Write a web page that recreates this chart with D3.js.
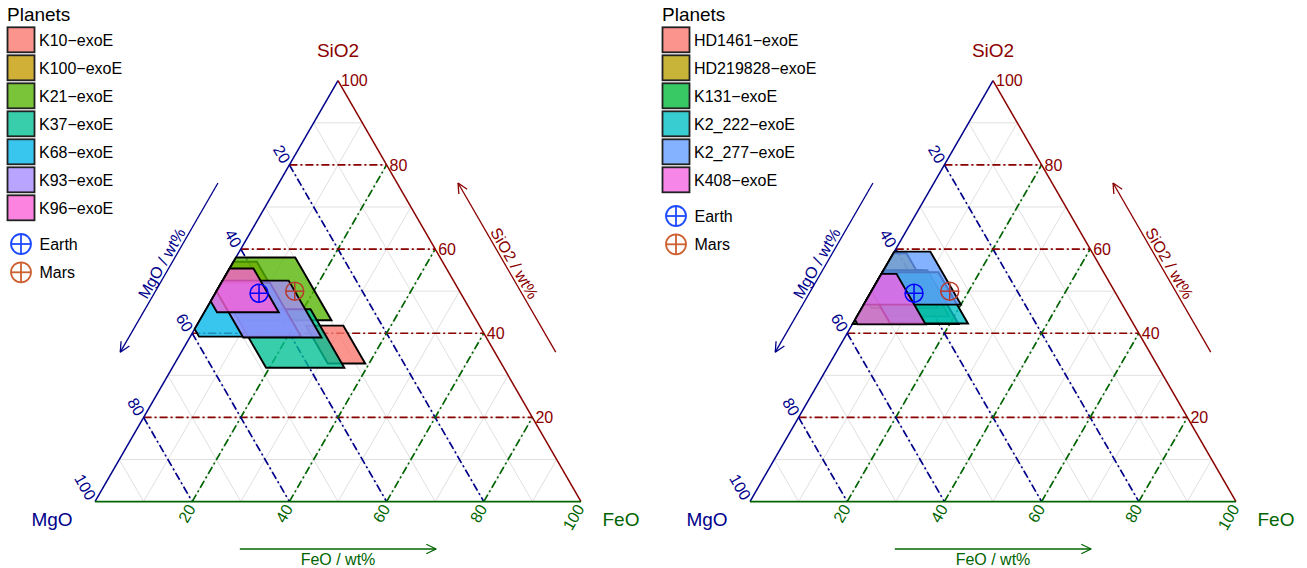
<!DOCTYPE html>
<html><head><meta charset="utf-8">
<script src="https://cdn.jsdelivr.net/npm/d3@7"></script>
<style>body{margin:0;background:#fff;} text{font-family:"Liberation Sans",Arial,Helvetica,sans-serif;}</style>
</head><body>
<svg id="c" width="1307" height="568"></svg>
<script>
// ---------------- data ----------------
const leftPlanets = ["K10−exoE","K100−exoE","K21−exoE","K37−exoE","K68−exoE","K93−exoE","K96−exoE"];
const leftSio2Min = [32.8, 45.0, 43.1, 31.8, 39.2, 39.0, 45.0];
const leftSio2Max = [41.8, 57.0, 58.0, 45.7, 52.0, 52.5, 55.4];
const leftMgoMin  = [28.0, 38.2, 29.8, 32.8, 38.0, 33.9, 39.7];
const leftMgoMax  = [35.7, 50.0, 48.0, 48.9, 59.0, 50.0, 52.4];

const rightPlanets = ["HD1461−exoE","HD219828−exoE","K131−exoE","K2_222−exoE","K2_277−exoE","K408−exoE"];
const rightSio2Min = [44.0, 46.0, 42.2, 42.3, 46.8, 42.1];
const rightSio2Max = [55.0, 59.0, 55.0, 54.5, 59.4, 54.1];
const rightMgoMin  = [37.0, 38.3, 36.0, 34.0, 33.2, 42.8];
const rightMgoMax  = [50.0, 52.0, 58.0, 50.0, 56.0, 56.8];

const earthSio2 = 49.5, earthMgo = 41.5;
const marsSio2 = 50.0, marsMgo = 33.9;

const tickValues = [20, 40, 60, 80, 100];
const majorLines = [20, 40, 60, 80];
const minorLines = [10, 20, 30, 40, 50, 60, 70, 80, 90];

// styles
const leftColors = ["#F8766D","#C49A00","#53B400","#00C094","#00B6EB","#A58AFF","#FB61D7"];
const rightColors = ["#F8766D","#B79F00","#00BA38","#00BFC4","#619CFF","#F564E3"];
const cSi = "#8B0000", cMg = "#00008B", cFe = "#006400";

const svg = d3.select("#c");
svg.append("rect").attr("width",1307).attr("height",568).attr("fill","#fff");

const W = 486, H = W*Math.sqrt(3)/2, X0 = 95, YB = 501.6;

function clipPoly(poly){
  const inside = p => p[0]+p[1] <= 100 + 1e-9;
  const inter = (a,b) => { const t = (100-a[0]-a[1])/((b[0]+b[1])-(a[0]+a[1])); return [a[0]+t*(b[0]-a[0]), a[1]+t*(b[1]-a[1])]; };
  const out = [];
  for (let i=0;i<poly.length;i++){
    const cur = poly[i], prev = poly[(i-1+poly.length)%poly.length];
    if (inside(cur)) { if (!inside(prev)) out.push(inter(prev,cur)); out.push(cur); }
    else if (inside(prev)) out.push(inter(prev,cur));
  }
  return out;
}

function arrow(g, x1, y1, x2, y2, color){
  g.append("line").attr("x1",x1).attr("y1",y1).attr("x2",x2).attr("y2",y2)
    .attr("stroke",color).attr("stroke-width",1.3);
  const a = Math.atan2(y2-y1, x2-x1), L = 11, sp = 0.45;
  [a+Math.PI-sp, a+Math.PI+sp].forEach(b=>{
    g.append("line").attr("x1",x2).attr("y1",y2).attr("x2",x2+L*Math.cos(b)).attr("y2",y2+L*Math.sin(b))
      .attr("stroke",color).attr("stroke-width",1.3);
  });
}

function crossCircle(g, x, y, r, color, sw){
  g.append("circle").attr("cx",x).attr("cy",y).attr("r",r).attr("fill","none").attr("stroke",color).attr("stroke-width",sw);
  g.append("line").attr("x1",x-r).attr("x2",x+r).attr("y1",y).attr("y2",y).attr("stroke",color).attr("stroke-width",sw);
  g.append("line").attr("x1",x).attr("x2",x).attr("y1",y-r).attr("y2",y+r).attr("stroke",color).attr("stroke-width",sw);
}

function panel(off, names, sMin, sMax, mMin, mMax, colors){
  const g = svg.append("g");
  const xS = d3.scaleLinear().domain([0,100]).range([X0+off, X0+off+W]);
  const yS = d3.scaleLinear().domain([0,100]).range([YB, YB-H]);
  const pt = (s,m) => { const f = 100-s-m; return [xS(f + s/2), yS(s)]; };
  const seg = (a,b,color,w,dash) => {
    const l = g.append("line").attr("x1",a[0]).attr("y1",a[1]).attr("x2",b[0]).attr("y2",b[1])
      .attr("stroke",color).attr("stroke-width",w);
    if (dash) l.attr("stroke-dasharray",dash);
  };
  // minor grid
  minorLines.forEach(v=>{
    seg(pt(v,100-v), pt(v,0), "#e0e0e0", 1);
    seg(pt(100-v,v), pt(0,v), "#e0e0e0", 1);
    seg(pt(0,100-v), pt(100-v,0), "#e0e0e0", 1);
  });
  const dd = "8,3,2,3";
  majorLines.forEach(v=>{
    seg(pt(v,100-v), pt(v,0), cSi, 1.7, dd);
    seg(pt(100-v,v), pt(0,v), cMg, 1.7, dd);
    seg(pt(0,100-v), pt(100-v,0), cFe, 1.7, dd);
  });
  // edges
  seg(pt(0,100), pt(100,0), cMg, 1.5);
  seg(pt(100,0), pt(0,0), cSi, 1.5);
  seg(pt(0,100), pt(0,0), cFe, 1.8);

  // polygons
  names.forEach((n,i)=>{
    const rect = [[sMin[i],mMin[i]],[sMax[i],mMin[i]],[sMax[i],mMax[i]],[sMin[i],mMax[i]]];
    const poly = clipPoly(rect).map(p=>pt(p[0],p[1]));
    g.append("path").attr("d", d3.line()(poly)+"Z")
      .attr("fill",colors[i]).attr("fill-opacity",0.78)
      .attr("stroke","#000").attr("stroke-width",1.9).attr("stroke-linejoin","miter");
  });

  // Earth / Mars
  const e = pt(earthSio2, earthMgo), ma = pt(marsSio2, marsMgo);
  crossCircle(g, e[0], e[1], 9, "#0000FF", 1.5);
  crossCircle(g, ma[0], ma[1], 9, "#B83A2E", 1.5);

  // tick labels
  tickValues.forEach(v=>{
    const a = pt(v,0);
    g.append("text").attr("x",a[0]+3).attr("y",a[1]).attr("dy","0.36em").attr("font-size",16)
      .attr("fill",cSi).text(v);
    const b = pt(100-v,v);
    g.append("text").attr("transform",`translate(${b[0]-3},${b[1]-3}) rotate(60)`).attr("text-anchor","end")
      .attr("dy","0.36em").attr("font-size",16).attr("fill",cMg).text(v);
    const c = pt(0,100-v);
    g.append("text").attr("transform",`translate(${c[0]-1},${c[1]+4}) rotate(-60)`).attr("text-anchor","end")
      .attr("dy","0.36em").attr("font-size",16).attr("fill",cFe).text(v);
  });

  // corner titles
  const top = pt(100,0), lv = pt(0,100), rv = pt(0,0);
  g.append("text").attr("x",top[0]).attr("y",56.5).attr("text-anchor","middle").attr("font-size",19).attr("fill",cSi).text("SiO2");
  g.append("text").attr("x",lv[0]-43).attr("y",526).attr("text-anchor","middle").attr("font-size",19).attr("fill",cMg).text("MgO");
  g.append("text").attr("x",rv[0]+40).attr("y",526).attr("text-anchor","middle").attr("font-size",19).attr("fill",cFe).text("FeO");

  // axis arrows
  const ya = yS(100) + 0.243*H, yb = yS(100) + 0.645*H;
  const edgeR = y => xS(50) + (y - yS(100))/H*W/2;
  const edgeL = y => xS(50) - (y - yS(100))/H*W/2;
  arrow(g, edgeR(yb)+61, yb, edgeR(ya)+61, ya, cSi);
  arrow(g, edgeL(ya)-61, ya, edgeL(yb)-61, yb, cMg);
  const mx1 = (edgeR(ya)+edgeR(yb))/2+61, my = (ya+yb)/2;
  g.append("text").attr("transform",`translate(${mx1},${my}) rotate(60)`).attr("text-anchor","middle")
    .attr("dy",-3).attr("font-size",16).attr("fill",cSi).text("SiO2 / wt%");
  const mx2 = (edgeL(ya)+edgeL(yb))/2-61;
  g.append("text").attr("transform",`translate(${mx2},${my}) rotate(-60)`).attr("text-anchor","middle")
    .attr("dy",-3).attr("font-size",16).attr("fill",cMg).text("MgO / wt%");
  arrow(g, xS(29.8), 549, xS(70.2), 549, cFe);
  g.append("text").attr("x",xS(50)).attr("y",564.5).attr("text-anchor","middle").attr("font-size",16).attr("fill",cFe).text("FeO / wt%");

  // legend
  const lg = svg.append("g").attr("transform",`translate(${off},0)`);
  lg.append("text").attr("x",7).attr("y",20.5).attr("font-size",19).attr("fill","#000").text("Planets");
  names.forEach((n,i)=>{
    const y = 27.3 + 28*i;
    lg.append("rect").attr("x",7.5).attr("y",y).attr("width",27).attr("height",25)
      .attr("fill",colors[i]).attr("fill-opacity",0.78).attr("stroke","#222").attr("stroke-width",1.8);
    lg.append("text").attr("x",39).attr("y",y+12.5+5.7).attr("font-size",16).attr("fill","#000").text(n);
  });
  const lastB = 27.3 + 28*(names.length-1) + 25;
  crossCircle(lg, 21, lastB+23.7, 10, "#1E4BFF", 1.8);
  lg.append("text").attr("x",39.5).attr("y",lastB+23.7+5.7).attr("font-size",16).attr("fill","#000").text("Earth");
  crossCircle(lg, 21, lastB+52, 10, "#CD6030", 1.8);
  lg.append("text").attr("x",39.5).attr("y",lastB+52+5.7).attr("font-size",16).attr("fill","#000").text("Mars");
}

panel(0, leftPlanets, leftSio2Min, leftSio2Max, leftMgoMin, leftMgoMax, leftColors);
panel(655, rightPlanets, rightSio2Min, rightSio2Max, rightMgoMin, rightMgoMax, rightColors);
</script>
</body></html>
